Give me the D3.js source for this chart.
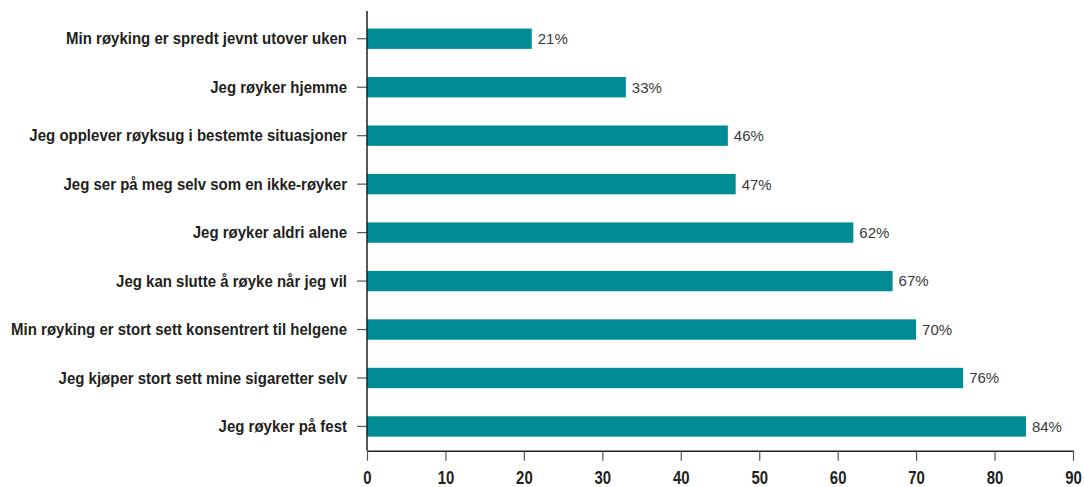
<!DOCTYPE html>
<meta charset="utf-8">
<style>
  body { margin: 0; background: #fff; }
  .cat text { font-family: "Liberation Sans", Arial, sans-serif; font-weight: bold; font-size: 16.5px; fill: #231f20; }
  .x text { font-family: "Liberation Sans", Arial, sans-serif; font-weight: bold; font-size: 18px; fill: #231f20; }
  .val { font-family: "Liberation Sans", Arial, sans-serif; font-size: 15px; fill: #3a3a3a; }
  .bar { fill: #008b95; }
</style>
<body>
<div id="chart"></div>
<script src="https://d3js.org/d3.v7.min.js"></script>
<script>
  // statements, top to bottom
  var categories = [
    "Min røyking er spredt jevnt utover uken",
    "Jeg røyker hjemme",
    "Jeg opplever røyksug i bestemte situasjoner",
    "Jeg ser på meg selv som en ikke-røyker",
    "Jeg røyker aldri alene",
    "Jeg kan slutte å røyke når jeg vil",
    "Min røyking er stort sett konsentrert til helgene",
    "Jeg kjøper stort sett mine sigaretter selv",
    "Jeg røyker på fest"
  ];
  var values = [21, 33, 46, 47, 62, 67, 70, 76, 84];
  var ticks = [0, 10, 20, 30, 40, 50, 60, 70, 80, 90];

  var width = 1084, height = 487;

  var x = d3.scaleLinear()
    .domain([0, 90])
    .range([367, 1073]);

  var y = d3.scaleBand()
    .domain(categories)
    .range([14.5, 450.7])
    .paddingInner(0.58)
    .paddingOuter(0.29);

  var svg = d3.select("#chart")
    .append("svg")
    .attr("width", width)
    .attr("height", height);

  // bars
  svg.selectAll(".bar")
    .data(values)
    .enter()
    .append("rect")
    .attr("class", "bar")
    .attr("x", x(0))
    .attr("y", function(d, i) { return y(categories[i]); })
    .attr("width", function(d) { return x(d) - x(0); })
    .attr("height", y.bandwidth());

  // value labels
  svg.selectAll(".val")
    .data(values)
    .enter()
    .append("text")
    .attr("class", "val")
    .attr("x", function(d) { return x(d) + 6; })
    .attr("y", function(d, i) { return y(categories[i]) + y.bandwidth() / 2; })
    .attr("dy", "0.36em")
    .text(function(d) { return d + "%"; });

  // y axis (condensed look: squeeze labels horizontally)
  var yAxis = d3.axisLeft(y).tickSize(10).tickPadding(10);
  var gy = svg.append("g")
    .attr("class", "cat")
    .attr("transform", "translate(" + x(0) + ",0)")
    .call(yAxis);
  gy.select(".domain").remove();
  gy.selectAll(".tick line").attr("stroke", "#555").attr("stroke-width", 1.2);
  var first = gy.select(".tick text").node().getComputedTextLength();
  var k = 281 / first;
  gy.selectAll(".tick text")
    .attr("x", 0)
    .attr("dy", "0.34em")
    .attr("transform", "translate(-20,0) scale(" + k + ",1)");
  gy.append("line")
    .attr("x1", 0).attr("x2", 0)
    .attr("y1", 11).attr("y2", 450.7)
    .attr("stroke", "#231f20")
    .attr("stroke-width", 1.5);

  // x axis
  var xAxis = d3.axisBottom(x).tickValues(ticks).tickSize(10).tickPadding(11).tickSizeOuter(0);
  var gx = svg.append("g")
    .attr("class", "x")
    .attr("transform", "translate(0,450.7)")
    .call(xAxis);
  gx.select(".domain").attr("stroke", "#231f20").attr("stroke-width", 1.5);
  gx.selectAll(".tick line").attr("stroke", "#555").attr("stroke-width", 1.2);
  gx.selectAll(".tick text")
    .attr("transform", "translate(0,21) scale(0.83,1)")
    .attr("y", 0)
    .attr("dy", "0.71em");
</script>
</body>
